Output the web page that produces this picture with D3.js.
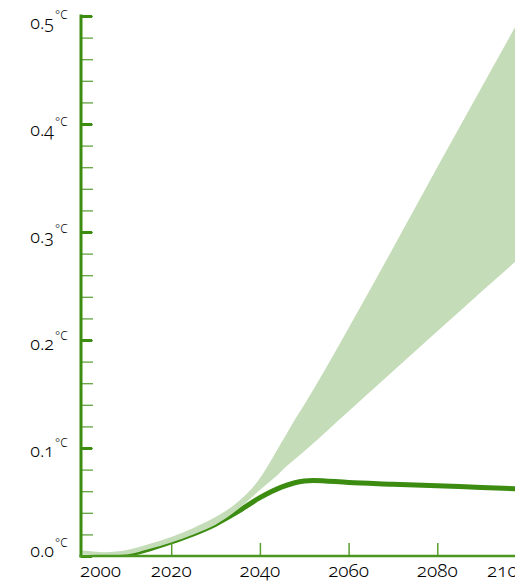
<!DOCTYPE html>
<html>
<head>
<meta charset="utf-8">
<script src="https://cdn.jsdelivr.net/npm/d3@7"></script>
<style>
  body { margin: 0; background: #fff; }
  text { font-family: "Noto Sans", sans-serif; font-variant-numeric: oldstyle-nums; font-weight: 300; fill: #000; }
</style>
</head>
<body>
<div id="okvir"></div>
<script>
// podaci
const pojasGodine = [2000, 2005, 2010, 2015, 2020, 2025, 2030, 2035, 2040, 2042, 2044, 2046, 2048, 2050, 2060, 2070, 2080, 2090, 2100]
const pojasDonji = [0.002, 0.0005, 0.0015, 0.0065, 0.0125, 0.020, 0.029, 0.043, 0.061, 0.068, 0.075, 0.083, 0.090, 0.097, 0.134, 0.171, 0.208, 0.245, 0.281]
const pojasGornji = [0.005, 0.0035, 0.0055, 0.011, 0.0175, 0.026, 0.036, 0.050, 0.072, 0.085, 0.099, 0.113, 0.127, 0.140, 0.211, 0.285, 0.360, 0.434, 0.508]

const linijaGodine = [2008, 2010, 2015, 2020, 2025, 2030, 2035, 2040, 2045, 2050, 2052, 2060, 2070, 2080, 2090, 2100]
const linijaVrijednosti = [-0.001, 0.001, 0.0065, 0.013, 0.0205, 0.0295, 0.041, 0.054, 0.064, 0.0695, 0.070, 0.068, 0.0665, 0.065, 0.0635, 0.062]

const xOznake = [2000, 2020, 2040, 2060, 2080, 2100]
const yOznake = [0.0, 0.1, 0.2, 0.3, 0.4, 0.5]
const yMale = d3.range(0, 0.5001, 0.02)

const zelena = "#3b8c10"
const svijetla = "#c5dcb9"

const dimenzije = { sirina: 515, visina: 582 }

const svg = d3.select("#okvir").append("svg")
  .attr("width", dimenzije.sirina)
  .attr("height", dimenzije.visina)

const xSkala = d3.scaleLinear().domain([2000, 2100]).range([82.5, 526])
const ySkala = d3.scaleLinear().domain([0, 0.5]).range([556, 16])

svg.append("clipPath").attr("id", "rez")
  .append("rect").attr("x", 81).attr("y", 0).attr("width", 500).attr("height", 556)

const crtez = svg.append("g").attr("clip-path", "url(#rez)")

// glavna linija
const linija = d3.line()
  .x((d, i) => xSkala(linijaGodine[i]))
  .y(d => ySkala(d))
  .curve(d3.curveMonotoneX)

crtez.append("path")
  .attr("d", linija(linijaVrijednosti))
  .attr("fill", "none")
  .attr("stroke", zelena)
  .attr("stroke-width", 5)

// pojas nesigurnosti
const pojas = d3.area()
  .x((d, i) => xSkala(pojasGodine[i]))
  .y0((d, i) => ySkala(pojasDonji[i]))
  .y1((d, i) => ySkala(pojasGornji[i]))
  .curve(d3.curveMonotoneX)

crtez.append("path")
  .attr("d", pojas(pojasGodine))
  .attr("fill", svijetla)

// y os
const yMaleOs = d3.axisRight(ySkala).tickValues(yMale).tickSize(12).tickFormat("")
const yMaleG = svg.append("g").attr("transform", "translate(81,0)").call(yMaleOs)
yMaleG.select(".domain").remove()
yMaleG.selectAll("line").attr("stroke", zelena).attr("stroke-width", 1.3).attr("stroke-opacity", 0.8)

const yVelikaOs = d3.axisRight(ySkala).tickValues(yOznake).tickSize(11).tickFormat("")
const yVelikaG = svg.append("g").attr("transform", "translate(81,0)").call(yVelikaOs)
yVelikaG.select(".domain").remove()
yVelikaG.selectAll("line").attr("stroke", zelena).attr("stroke-width", 3)

svg.append("line")
  .attr("x1", 81).attr("x2", 81)
  .attr("y1", ySkala(0.5) - 1.5).attr("y2", ySkala(0) + 1.5)
  .attr("stroke", zelena).attr("stroke-width", 3)

// x os
const xOs = d3.axisTop(xSkala).tickValues(xOznake.slice(1)).tickSize(13).tickFormat("")
const xG = svg.append("g").attr("transform", `translate(0,${ySkala(0)})`).call(xOs)
xG.select(".domain").remove()
xG.selectAll("line").attr("stroke", "#5a9e30").attr("stroke-width", 1.5)

svg.append("line")
  .attr("x1", 79.5).attr("x2", 530)
  .attr("y1", ySkala(0)).attr("y2", ySkala(0))
  .attr("stroke", "#4a9620").attr("stroke-width", 2.5)

// oznake
svg.selectAll(".x-oznaka").data(xOznake).join("text")
  .attr("class", "x-oznaka")
  .attr("x", (d, i) => i === 0 ? 80 : i === xOznake.length - 1 ? 528 : xSkala(d))
  .attr("y", 577)
  .attr("text-anchor", (d, i) => i === 0 ? "start" : i === xOznake.length - 1 ? "end" : "middle")
  .attr("font-size", 19)
  .text(d => d)

const yPomak = d => d === 0 ? 1 : 9 + (d - 0.1) * 10

const yG = svg.selectAll(".y-oznaka").data(yOznake).join("g")
  .attr("class", "y-oznaka")
  .attr("transform", d => `translate(0,${ySkala(d) + yPomak(d)})`)

yG.append("text")
  .attr("x", 54)
  .attr("text-anchor", "end")
  .attr("font-size", 18)
  .text(d => d.toFixed(1))

yG.append("text")
  .attr("x", 55)
  .attr("y", -10)
  .attr("font-size", 12)
  .text("°C")
</script>
</body>
</html>
